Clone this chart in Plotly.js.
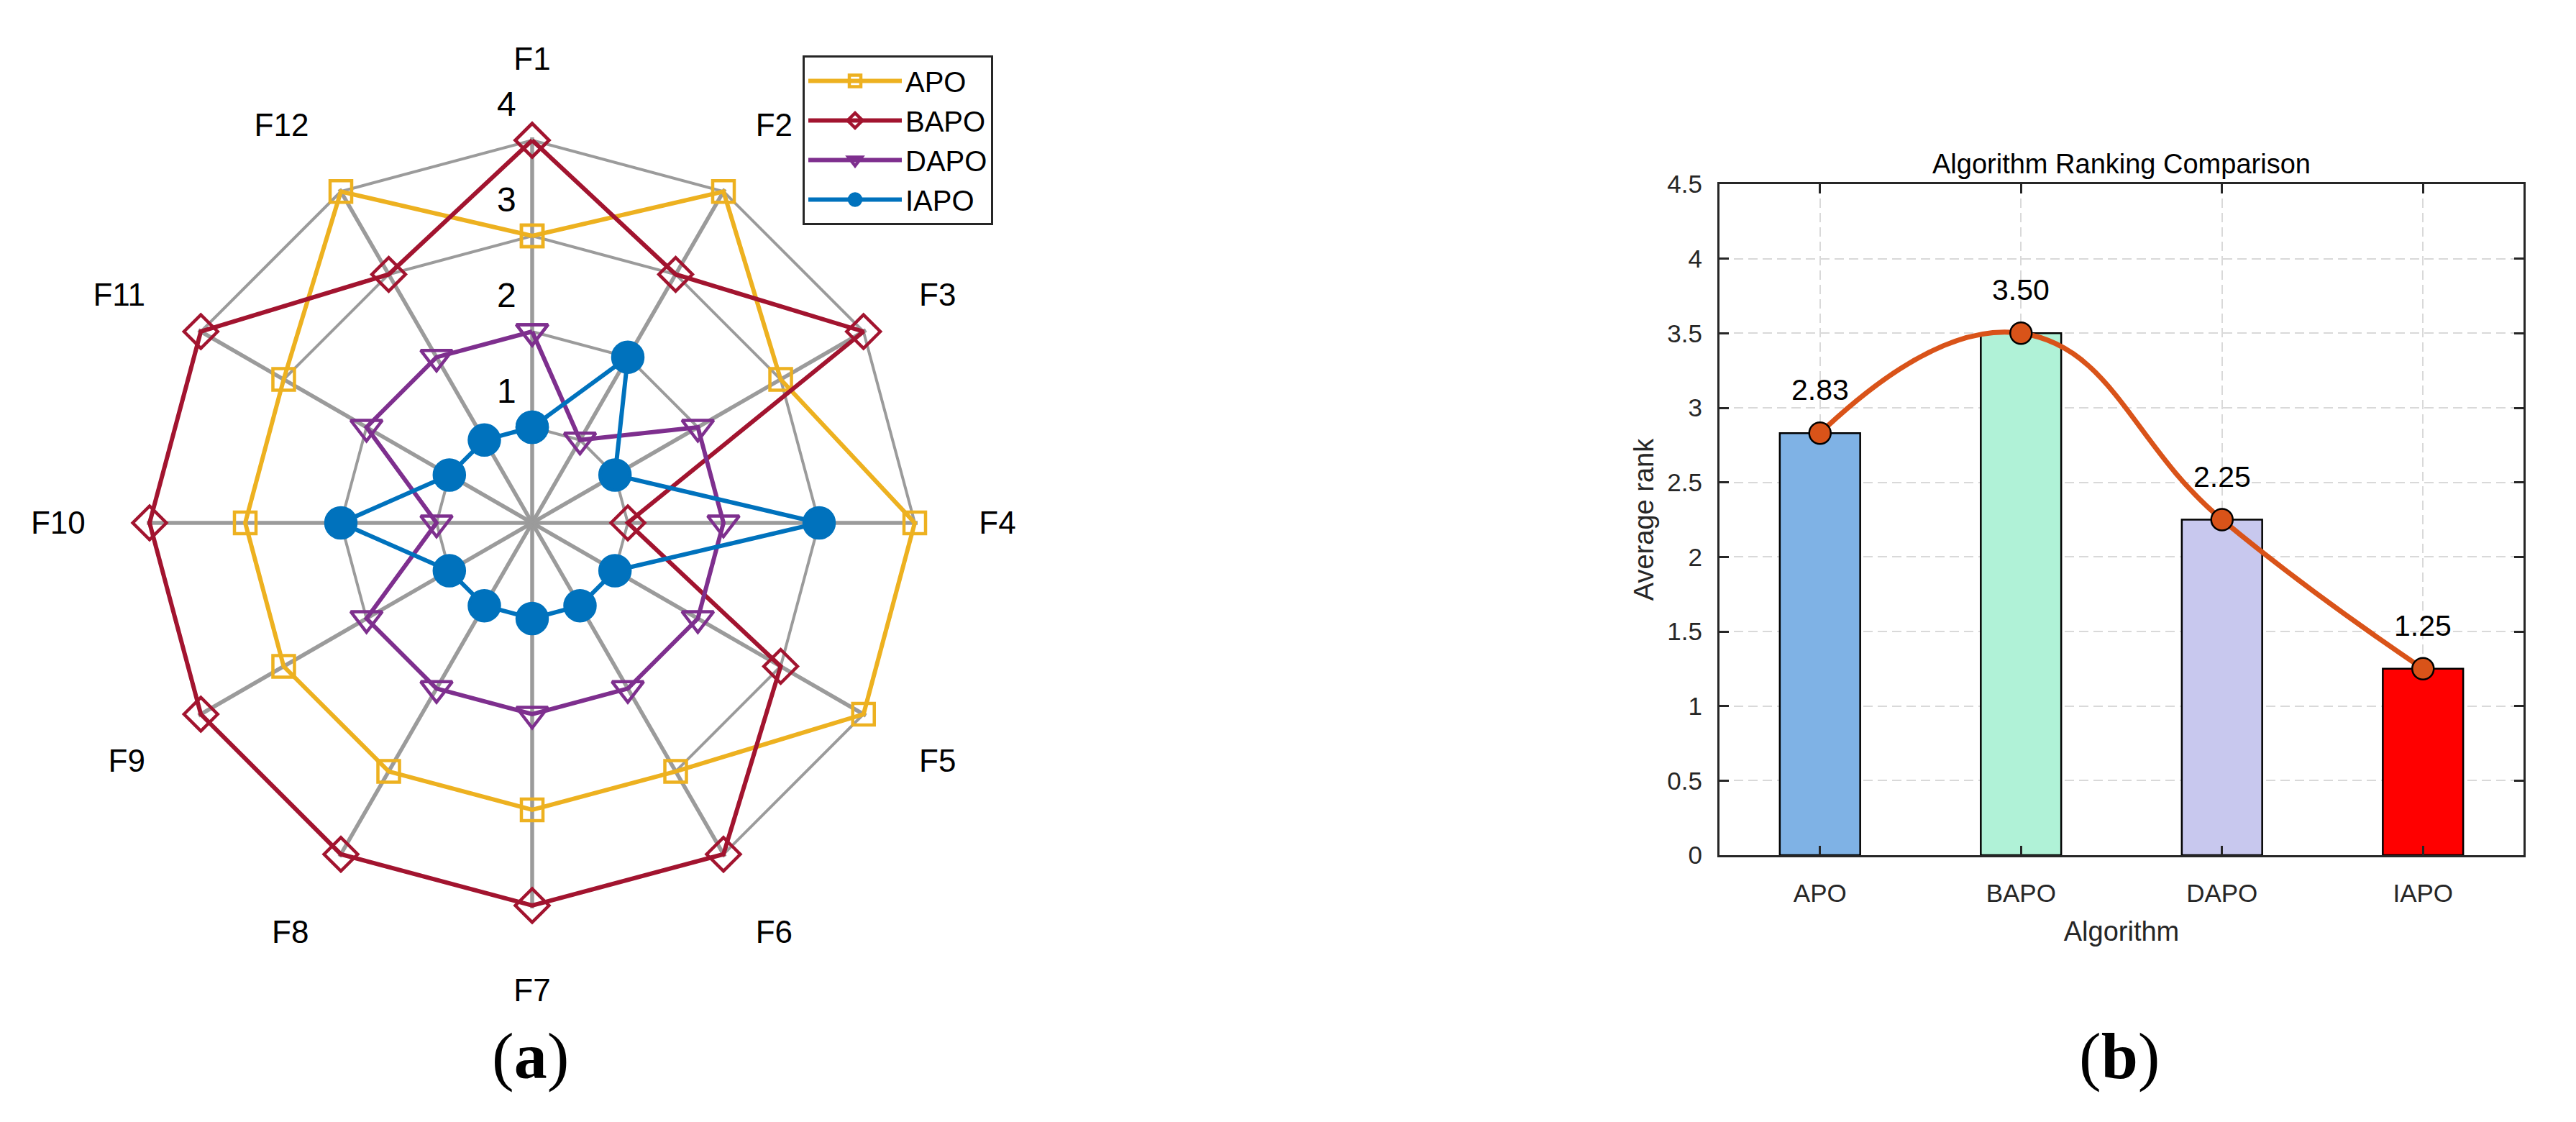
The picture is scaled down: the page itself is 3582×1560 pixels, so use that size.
<!DOCTYPE html>
<html>
<head>
<meta charset="utf-8">
<script src="https://cdn.plot.ly/plotly-3.0.1.min.js"></script>
<style>
  html, body { margin: 0; padding: 0; background: #ffffff; }
  #chart { width: 3582px; height: 1560px; }
</style>
</head>
<body>
<div id="chart"></div>
<script>
// ---------- Data (a): rank of each algorithm on F1..F12 ----------
const functions = ['F1','F2','F3','F4','F5','F6','F7','F8','F9','F10','F11','F12'];
const apoRanks  = [3, 4, 3, 4, 4, 3, 3, 3, 3, 3, 3, 4];
const bapoRanks = [4, 3, 4, 1, 3, 4, 4, 4, 4, 4, 4, 3];
const dapoRanks = [2, 1, 2, 2, 2, 2, 2, 2, 2, 1, 2, 2];
const iapoRanks = [1, 2, 1, 3, 1, 1, 1, 1, 1, 2, 1, 1];
const radialTickValues = [1, 2, 3, 4];

// ---------- Data (b): average rank ----------
const algorithms = ['APO', 'BAPO', 'DAPO', 'IAPO'];
const averageRank = [2.83, 3.50, 2.25, 1.25];
const barColors = ['#7FB2E5', '#B0F2D7', '#C8C8EE', '#FF0000'];

const FONT = 'Liberation Sans, Arial, sans-serif';
const GRAY = '#9B9B9B';

function closed(arr) { return arr.concat([arr[0]]); }
const thetaClosed = closed(functions);

function radarTrace(name, vals, color, symbol, size) {
  return {
    type: 'scatterpolar',
    subplot: 'polar',
    name: name,
    r: closed(vals),
    theta: thetaClosed,
    mode: 'lines+markers',
    line: { color: color, width: 6 },
    marker: {
      symbol: symbol,
      size: size,
      color: color,
      line: { color: color, width: 4.5 }
    },
    cliponaxis: false
  };
}

const traces = [
  radarTrace('APO', apoRanks, '#EDB120', 'square-open', 30),
  radarTrace('BAPO', bapoRanks, '#A2142F', 'diamond-open', 36),
  radarTrace('DAPO', dapoRanks, '#7E2F8E', 'triangle-down-open', 38),
  radarTrace('IAPO', iapoRanks, '#0072BD', 'circle', 42),
  {
    type: 'scatterpolar',
    subplot: 'polar',
    r: radialTickValues,
    theta: radialTickValues.map(() => functions[0]),
    text: radialTickValues.map(String),
    mode: 'markers+text',
    textposition: 'top left',
    textfont: { family: FONT, size: 48, color: '#000000' },
    marker: { size: 34, color: 'rgba(0,0,0,0)' },
    showlegend: false,
    hoverinfo: 'skip',
    cliponaxis: false
  },
  {
    type: 'bar',
    x: algorithms,
    y: averageRank,
    width: 0.4,
    marker: { color: barColors, line: { color: '#000000', width: 2.5 } },
    showlegend: false,
    xaxis: 'x', yaxis: 'y'
  },
  {
    type: 'scatter',
    x: algorithms,
    y: averageRank,
    mode: 'lines+markers',
    line: { color: '#D95319', width: 7, shape: 'spline', smoothing: 1.3 },
    marker: { size: 30, color: '#D95319', line: { color: '#000000', width: 2.5 } },
    showlegend: false,
    xaxis: 'x', yaxis: 'y',
    cliponaxis: false
  }
];

const W = 3582, H = 1560;
// radar geometry: centre (740, 727), value 4 at 532 px; small headroom so lines on the outer ring are not clipped
const RMAX = 4.03;
const R4 = 532, CX = 740, CY = 727;
const Rout = R4 * RMAX / 4;

const annotations = averageRank.map((v, i) => ({
  x: algorithms[i], y: v, xref: 'x', yref: 'y',
  text: v.toFixed(2), showarrow: false,
  yshift: 60, xanchor: 'center', yanchor: 'middle',
  font: { family: FONT, size: 41, color: '#000000' }
}));
annotations.push({
  x: 2950 / W, y: 1 - 228 / H, xref: 'paper', yref: 'paper',
  text: 'Algorithm Ranking Comparison', showarrow: false,
  xanchor: 'center', yanchor: 'middle',
  font: { family: FONT, size: 38, color: '#000000' }
});
annotations.push({
  x: 737 / W, y: 1 - 1468 / H, xref: 'paper', yref: 'paper',
  text: '(<b>a</b>)', showarrow: false, xanchor: 'center', yanchor: 'middle',
  font: { family: 'Liberation Serif, Times New Roman, serif', size: 92, color: '#000000' }
});
annotations.push({
  x: 2947 / W, y: 1 - 1468 / H, xref: 'paper', yref: 'paper',
  text: '(<b>b</b>)', showarrow: false, xanchor: 'center', yanchor: 'middle',
  font: { family: 'Liberation Serif, Times New Roman, serif', size: 92, color: '#000000' }
});

const axisCommon = {
  showline: true, linecolor: '#262626', linewidth: 3, mirror: 'ticks',
  ticks: 'inside', ticklen: 13, tickwidth: 3, tickcolor: '#262626',
  showgrid: true, gridcolor: '#D9D9D9', gridwidth: 2, griddash: '13px,7px',
  zeroline: false,
  tickfont: { family: FONT, size: 35, color: '#262626' }
};

const layout = {
  width: W, height: H,
  margin: { l: 0, r: 0, t: 0, b: 0 },
  paper_bgcolor: '#ffffff',
  plot_bgcolor: '#ffffff',
  font: { family: FONT, color: '#000000' },
  showlegend: true,
  legend: {
    x: 1116 / W, y: 1 - 77 / H, xanchor: 'left', yanchor: 'top',
    bgcolor: '#ffffff', bordercolor: '#262626', borderwidth: 3,
    font: { family: FONT, size: 40, color: '#000000' },
    itemwidth: 130, tracegroupgap: 0
  },
  polar: {
    domain: { x: [(CX - Rout) / W, (CX + Rout) / W], y: [1 - (CY + Rout) / H, 1 - (CY - Rout) / H] },
    bgcolor: '#ffffff',
    gridshape: 'linear',
    angularaxis: {
      type: 'category', categoryarray: functions,
      direction: 'clockwise', rotation: 90,
      layer: 'below traces',
      showgrid: true, gridcolor: GRAY, gridwidth: 5.5,
      showline: false,
      ticks: 'outside', ticklen: 76, tickcolor: 'rgba(0,0,0,0)',
      tickfont: { family: FONT, size: 44, color: '#000000' }
    },
    radialaxis: {
      range: [0, RMAX], tickvals: radialTickValues, angle: 90,
      layer: 'below traces',
      showticklabels: false, ticks: '', showline: false,
      showgrid: true, gridcolor: GRAY, gridwidth: 4
    }
  },
  xaxis: Object.assign({}, axisCommon, {
    domain: [2391 / W, 3509 / W],
    type: 'category', range: [-0.5, 3.5],
    anchor: 'y',
    ticklabelstandoff: 20,
    title: { text: 'Algorithm', font: { family: FONT, size: 38, color: '#262626' }, standoff: 22 }
  }),
  yaxis: Object.assign({}, axisCommon, {
    domain: [1 - 1189 / H, 1 - 256 / H],
    range: [0, 4.5], dtick: 0.5, tick0: 0,
    anchor: 'x',
    ticklabelstandoff: 14,
    title: { text: 'Average rank', font: { family: FONT, size: 38, color: '#262626' }, standoff: 8 }
  }),
  annotations: annotations
};

Plotly.newPlot('chart', traces, layout, { displayModeBar: false, staticPlot: true });
</script>
</body>
</html>
